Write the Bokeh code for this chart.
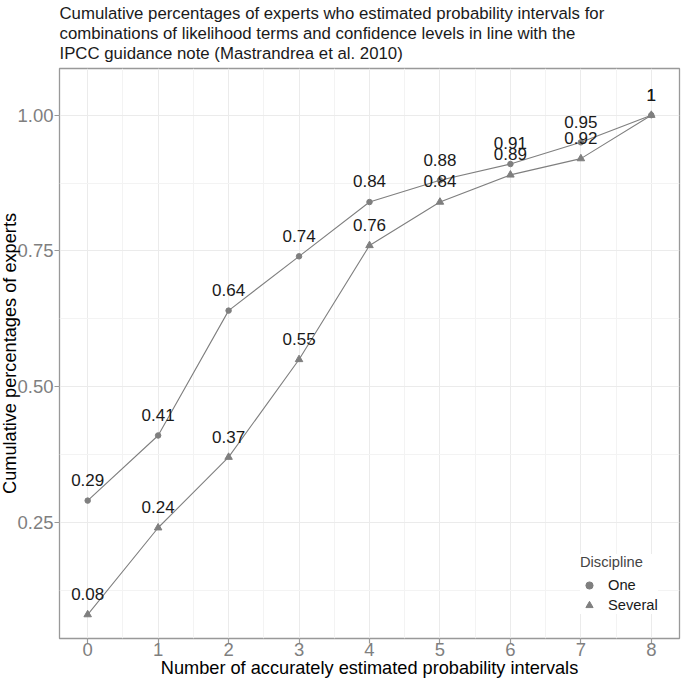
from bokeh.plotting import figure
from bokeh.models import FixedTicker, Legend, LegendItem, Title, ColumnDataSource, Range1d, CustomJSTickFormatter
from bokeh.core.properties import value
from bokeh.embed import file_html
from bokeh.resources import INLINE

# ---- data ----
intervals = [0, 1, 2, 3, 4, 5, 6, 7, 8]
one = [0.29, 0.41, 0.64, 0.74, 0.84, 0.88, 0.91, 0.95, 1.0]
several = [0.08, 0.24, 0.37, 0.55, 0.76, 0.84, 0.89, 0.92, 1.0]
one_labels = ["0.29", "0.41", "0.64", "0.74", "0.84", "0.88", "0.91", "0.95", "1"]
several_labels = ["0.08", "0.24", "0.37", "0.55", "0.76", "0.84", "0.89", "0.92", "1"]
y_ticks = [0.25, 0.50, 0.75, 1.00]
y_tick_labels = ["0.25", "0.50", "0.75", "1.00"]
x_ticks = [0, 1, 2, 3, 4, 5, 6, 7, 8]
series_names = ["One", "Several"]
title_lines = [
    "Cumulative percentages of experts who estimated probability intervals for",
    "combinations of likelihood terms and confidence levels in line with the",
    "IPCC guidance note (Mastrandrea et al. 2010)",
]

FONT = "Liberation Sans"
GREY = "#7f7f7f"
NUDGE = 0.038

p = figure(width=685, height=686, output_backend="svg", toolbar_location=None,
           x_range=Range1d(-0.4, 8.4), y_range=Range1d(0.036, 1.086),
           min_border_left=63, min_border_right=2, min_border_top=66, min_border_bottom=44)
p.margin = (-4, -4, -4, -4)

p.title = Title(text="\n".join(title_lines), align="left", text_font=FONT,
                text_font_size="16.8px", text_font_style="normal", text_color="#1a1a1a",
                offset=0, standoff=11, text_line_height=1.05)

p.background_fill_color = "white"
p.border_fill_color = "white"
p.outline_line_color = "#999999"
p.outline_line_width = 1.3

# grids
p.xaxis.ticker = FixedTicker(ticks=x_ticks, minor_ticks=[t + 0.5 for t in x_ticks[:-1]] + [-0.5, 8.5])
p.yaxis.ticker = FixedTicker(ticks=y_ticks, minor_ticks=[0.125, 0.375, 0.625, 0.875])
for g in (p.xgrid, p.ygrid):
    g.grid_line_color = "#ebebeb"
    g.grid_line_width = 1
    g.minor_grid_line_color = "#f3f3f3"
    g.minor_grid_line_width = 1

p.yaxis.formatter = CustomJSTickFormatter(args=dict(vals=y_ticks, labs=y_tick_labels),
    code="const i = vals.findIndex(v => Math.abs(v - tick) < 1e-9); return i >= 0 ? labs[i] : tick.toFixed(2);")

for ax in (p.xaxis, p.yaxis):
    ax.axis_line_color = None
    ax.major_tick_line_color = "#999999"
    ax.major_tick_line_width = 1.2
    ax.major_tick_in = 0
    ax.major_tick_out = 5
    ax.minor_tick_line_color = None
    ax.major_label_text_font = FONT
    ax.major_label_text_font_size = "18.5px"
    ax.major_label_text_color = "#7f7f7f"
    ax.axis_label_text_font = FONT
    ax.axis_label_text_font_size = "18.2px"
    ax.axis_label_text_font_style = "normal"
    ax.axis_label_text_color = "#000000"

p.xaxis.axis_label = "Number of accurately estimated probability intervals"
p.yaxis.axis_label = "Cumulative percentages of experts"
p.xaxis.major_label_standoff = -1
p.xaxis.axis_label_standoff = -1
p.yaxis.major_label_standoff = 1
p.yaxis.axis_label_standoff = -6

# lines
p.line(intervals, one, line_color=GREY, line_width=1.1)
p.line(intervals, several, line_color=GREY, line_width=1.1)
r_one = p.scatter(intervals, one, marker="circle", size=5.5, fill_color=GREY, line_color=GREY)
r_sev = p.scatter(intervals, several, marker="triangle", size=7.5, fill_color=GREY, line_color=GREY)

# labels
src_one = ColumnDataSource(dict(x=intervals, y=[v + NUDGE for v in one], t=one_labels))
src_sev = ColumnDataSource(dict(x=intervals, y=[v + NUDGE for v in several], t=several_labels))
for s in (src_one, src_sev):
    p.text(x="x", y="y", text="t", source=s, text_align="center", text_baseline="middle",
           text_font=value(FONT), text_font_size="17px", text_color="#1a1a1a")

legend = Legend(items=[LegendItem(label=series_names[0], renderers=[r_one]),
                       LegendItem(label=series_names[1], renderers=[r_sev])],
                title="Discipline", location=(521, 24), orientation="vertical",
                background_fill_color="white", background_fill_alpha=1, border_line_color=None,
                padding=0, margin=0, spacing=2, label_standoff=10, glyph_width=18, glyph_height=18,
                title_text_font=FONT, title_text_font_size="14.7px", title_text_font_style="normal",
                title_standoff=6,
                label_text_font=FONT, label_text_font_size="14.7px", label_text_color="#1a1a1a")
p.add_layout(legend)

open("out.html", "w").write(file_html(p, INLINE))
